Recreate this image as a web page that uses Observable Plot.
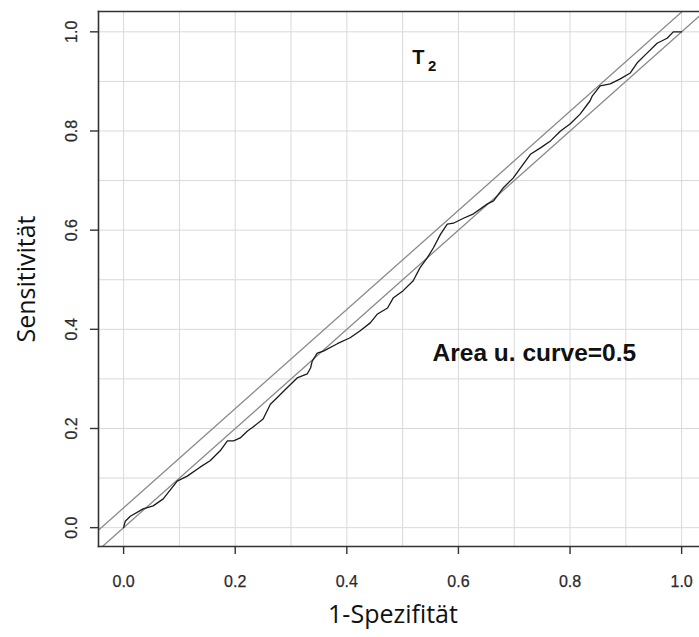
<!DOCTYPE html>
<html>
<head>
<meta charset="utf-8">
<script src="https://cdn.jsdelivr.net/npm/d3@7"></script>
<script src="https://cdn.jsdelivr.net/npm/@observablehq/plot@0.6"></script>
<style>
  html, body { margin: 0; padding: 0; background: #fff; }
</style>
</head>
<body>
<div id="chart"></div>
<script>
// ---- data ----
const rocX = [0, 0.001, 0.003, 0.012, 0.035, 0.053, 0.071, 0.096, 0.114, 0.137, 0.155, 0.173, 0.186, 0.197, 0.209, 0.222, 0.232, 0.250, 0.263, 0.275, 0.293, 0.311, 0.329, 0.335, 0.338, 0.347, 0.358, 0.383, 0.406, 0.424, 0.442, 0.455, 0.473, 0.483, 0.501, 0.519, 0.531, 0.544, 0.555, 0.568, 0.580, 0.591, 0.609, 0.627, 0.652, 0.663, 0.680, 0.698, 0.711, 0.729, 0.747, 0.765, 0.783, 0.800, 0.818, 0.836, 0.840, 0.854, 0.872, 0.890, 0.908, 0.920, 0.938, 0.956, 0.974, 0.985, 1.0];
const rocY = [0, 0.005, 0.013, 0.023, 0.038, 0.044, 0.058, 0.094, 0.104, 0.122, 0.135, 0.155, 0.175, 0.175, 0.181, 0.195, 0.203, 0.219, 0.249, 0.262, 0.282, 0.302, 0.310, 0.322, 0.336, 0.352, 0.356, 0.371, 0.383, 0.397, 0.413, 0.431, 0.443, 0.463, 0.478, 0.498, 0.524, 0.544, 0.564, 0.592, 0.612, 0.614, 0.624, 0.633, 0.653, 0.659, 0.685, 0.705, 0.725, 0.753, 0.766, 0.780, 0.800, 0.814, 0.834, 0.861, 0.871, 0.891, 0.895, 0.905, 0.917, 0.937, 0.957, 0.977, 0.987, 1.0, 1.0];

// reference lines (diagonal and upper band)
const lowerLineX = [-0.05, 1.05];
const lowerLineY = [-0.05, 1.05];
const upperLineX = [-0.05, 1.05];
const upperLineY = [-0.01, 1.09];

const tickValues = [0, 0.2, 0.4, 0.6, 0.8, 1.0];
const tickLabels = ["0.0", "0.2", "0.4", "0.6", "0.8", "1.0"];
const gridValues = [0, 0.1, 0.2, 0.3, 0.4, 0.5, 0.6, 0.7, 0.8, 0.9, 1.0];

const xTitle = "1-Spezifität";
const yTitle = "Sensitivität";
const panelLabel = "T";
const panelSub = "2";
const aucLabel = "Area u. curve=0.5";

// ---- build ----
const roc = rocX.map((x, i) => ({x, y: rocY[i]}));
const lowerLine = lowerLineX.map((x, i) => ({x, y: lowerLineY[i]}));
const upperLine = upperLineX.map((x, i) => ({x, y: upperLineY[i]}));
const ticks = tickValues.map((v, i) => ({v, label: tickLabels[i]}));

const tickFont = "Liberation Sans, Arial, sans-serif";
const titleFont = "Open Sans, sans-serif";

const chart = Plot.plot({
  width: 699,
  height: 637,
  marginLeft: 98,
  marginRight: 0,
  marginTop: 11,
  marginBottom: 91,
  x: {domain: [-0.045, 1.032], axis: null},
  y: {domain: [-0.038, 1.041], axis: null},
  style: {background: "#fff", overflow: "visible"},
  marks: [
    Plot.gridX(gridValues, {stroke: "#d9d9d9", strokeOpacity: 1, strokeWidth: 1}),
    Plot.gridY(gridValues, {stroke: "#d9d9d9", strokeOpacity: 1, strokeWidth: 1}),
    Plot.line(lowerLine, {x: "x", y: "y", stroke: "#8a8a8a", strokeWidth: 1.3, clip: true}),
    Plot.line(upperLine, {x: "x", y: "y", stroke: "#8a8a8a", strokeWidth: 1.3, clip: true}),
    Plot.line(roc, {x: "x", y: "y", stroke: "#1a1a1a", strokeWidth: 1.3, curve: "linear"}),
    // frame: top, left, bottom
    Plot.frame({anchor: "top", stroke: "#333", strokeWidth: 1.6}),
    Plot.frame({anchor: "left", stroke: "#333", strokeWidth: 1.6}),
    Plot.frame({anchor: "bottom", stroke: "#333", strokeWidth: 1.6}),
    // ticks
    Plot.axisX(tickValues, {tickSize: 8, tickFormat: () => "", stroke: "#333", strokeWidth: 1.4, label: null}),
    Plot.axisY(tickValues, {tickSize: 8, tickFormat: () => "", stroke: "#333", strokeWidth: 1.4, label: null}),
    // tick labels
    Plot.text(ticks, {x: "v", text: "label", frameAnchor: "bottom", dy: 35, textAnchor: "middle", lineAnchor: "middle", fontSize: 16, fontFamily: tickFont, fill: "#2a2a2a", stroke: "#2a2a2a", strokeWidth: 0.25}),
    Plot.text(ticks, {y: "v", text: "label", frameAnchor: "left", dx: -27, rotate: -90, textAnchor: "middle", lineAnchor: "middle", fontSize: 16, fontFamily: tickFont, fill: "#2a2a2a", stroke: "#2a2a2a", strokeWidth: 0.25}),
    // axis titles
    Plot.text([xTitle], {frameAnchor: "bottom", dy: 68, dx: -6, textAnchor: "middle", lineAnchor: "middle", fontSize: 25, fontFamily: titleFont, fill: "#111"}),
    Plot.text([yTitle], {frameAnchor: "left", dx: -72, rotate: -90, textAnchor: "middle", lineAnchor: "middle", fontSize: 25, fontFamily: titleFont, fill: "#111"}),
    // annotations
    Plot.text([panelLabel], {x: () => 0.528, y: () => 0.948, fontSize: 20, fontWeight: "bold", fontFamily: tickFont, fill: "#111"}),
    Plot.text([panelSub], {x: () => 0.553, y: () => 0.93, fontSize: 15, fontWeight: "bold", fontFamily: tickFont, fill: "#111"}),
    Plot.text([aucLabel], {x: () => 0.736, y: () => 0.352, fontSize: 24.5, fontWeight: "bold", fontFamily: tickFont, fill: "#111"})
  ]
});
document.getElementById("chart").appendChild(chart);
</script>
</body>
</html>
